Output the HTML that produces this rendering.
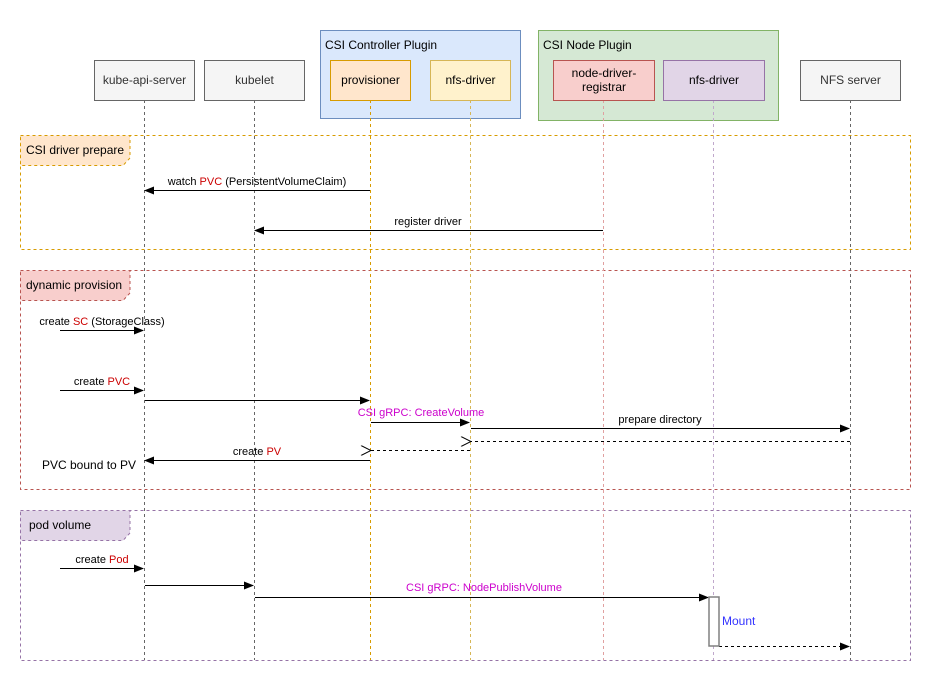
<!DOCTYPE html>
<html><head><meta charset="utf-8"><style>
html,body{margin:0;padding:0;background:#fff;}
svg{display:block;font-family:"Liberation Sans",Helvetica,Arial,sans-serif;}
</style></head><body>
<svg width="950" height="690" viewBox="0 0 950 690" xmlns="http://www.w3.org/2000/svg">
<defs>
<marker id="a" markerWidth="10" markerHeight="8" refX="9" refY="4" orient="auto" markerUnits="userSpaceOnUse"><path d="M0,0 L10,4 L0,8 Z" fill="#000"/></marker>
<marker id="o" markerWidth="12" markerHeight="10" refX="1" refY="5" orient="auto-start-reverse" markerUnits="userSpaceOnUse"><path d="M11,0 L1,5 L11,10" fill="none" stroke="#000"/></marker>
</defs>
<!-- plugin containers -->
<rect x="320.5" y="30.5" width="200" height="88" fill="#dae8fc" stroke="#6c8ebf"/>
<text x="325" y="49" font-size="12">CSI Controller Plugin</text>
<rect x="538.5" y="30.5" width="240" height="90" fill="#d5e8d4" stroke="#82b366"/>
<text x="543" y="49" font-size="12">CSI Node Plugin</text>
<!-- frames -->
<rect x="20.5" y="135.5" width="890" height="114" fill="none" stroke="#d79b00" stroke-dasharray="3,3"/>
<path d="M20.5,135.5 H130 V158 L123,165.5 H20.5 Z" fill="#ffe6cc" stroke="#d79b00" stroke-dasharray="3,3"/>
<text x="26" y="154" font-size="12">CSI driver prepare</text>
<rect x="20.5" y="270.5" width="890" height="219" fill="none" stroke="#b85450" stroke-dasharray="3,3"/>
<path d="M20.5,270.5 H130 V293 L123,300.5 H20.5 Z" fill="#f8cecc" stroke="#b85450" stroke-dasharray="3,3"/>
<text x="26" y="289" font-size="12">dynamic provision</text>
<rect x="20.5" y="510.5" width="890" height="150" fill="none" stroke="#9673a6" stroke-dasharray="3,3"/>
<path d="M20.5,510.5 H130 V533 L123,540.5 H20.5 Z" fill="#e1d5e7" stroke="#9673a6" stroke-dasharray="3,3"/>
<text x="29" y="529" font-size="12">pod volume</text>
<!-- lifelines -->
<g stroke-dasharray="3,3" fill="none">
<line x1="144.5" y1="100" x2="144.5" y2="660" stroke="#666"/>
<line x1="254.5" y1="100" x2="254.5" y2="660" stroke="#666"/>
<line x1="370.5" y1="100" x2="370.5" y2="660" stroke="#d79b00"/>
<line x1="470.5" y1="100" x2="470.5" y2="660" stroke="#d6b656"/>
<line x1="603.5" y1="100" x2="603.5" y2="660" stroke="#e0a0a0"/>
<line x1="713.5" y1="100" x2="713.5" y2="660" stroke="#c0a8cc"/>
<line x1="850.5" y1="100" x2="850.5" y2="660" stroke="#666"/>
</g>
<!-- participant boxes -->
<g font-size="12" text-anchor="middle">
<rect x="94.5" y="60.5" width="100" height="40" fill="#f5f5f5" stroke="#666"/>
<text x="144.5" y="84" fill="#333">kube-api-server</text>
<rect x="204.5" y="60.5" width="100" height="40" fill="#f5f5f5" stroke="#666"/>
<text x="254.5" y="84" fill="#333">kubelet</text>
<rect x="330.5" y="60.5" width="80" height="40" fill="#ffe6cc" stroke="#d79b00"/>
<text x="370.5" y="84">provisioner</text>
<rect x="430.5" y="60.5" width="80" height="40" fill="#fff2cc" stroke="#d6b656"/>
<text x="470.5" y="84">nfs-driver</text>
<rect x="553.5" y="60.5" width="101" height="40" fill="#f8cecc" stroke="#b85450"/>
<text x="604" y="77">node-driver-</text>
<text x="604" y="91">registrar</text>
<rect x="663.5" y="60.5" width="101" height="40" fill="#e1d5e7" stroke="#9673a6"/>
<text x="714" y="84">nfs-driver</text>
<rect x="800.5" y="60.5" width="100" height="40" fill="#f5f5f5" stroke="#666"/>
<text x="850.5" y="84" fill="#333">NFS server</text>
</g>
<!-- messages -->
<g stroke="#000" fill="none">
<line x1="370" y1="190.5" x2="145" y2="190.5" marker-end="url(#a)"/>
<line x1="603" y1="230.5" x2="255" y2="230.5" marker-end="url(#a)"/>
<line x1="60" y1="330.5" x2="143" y2="330.5" marker-end="url(#a)"/>
<line x1="60" y1="390.5" x2="143" y2="390.5" marker-end="url(#a)"/>
<line x1="145" y1="400.5" x2="369" y2="400.5" marker-end="url(#a)"/>
<line x1="371" y1="422.5" x2="469" y2="422.5" marker-end="url(#a)"/>
<line x1="471" y1="428.5" x2="849" y2="428.5" marker-end="url(#a)"/>
<line x1="850" y1="441.5" x2="471" y2="441.5" stroke-dasharray="3,3" marker-end="url(#o)"/>
<line x1="470" y1="450.5" x2="371" y2="450.5" stroke-dasharray="3,3" marker-end="url(#o)"/>
<line x1="370" y1="460.5" x2="145" y2="460.5" marker-end="url(#a)"/>
<line x1="60" y1="568.5" x2="143" y2="568.5" marker-end="url(#a)"/>
<line x1="145" y1="585.5" x2="253" y2="585.5" marker-end="url(#a)"/>
<line x1="255" y1="597.5" x2="708" y2="597.5" marker-end="url(#a)"/>
<line x1="719" y1="646.5" x2="849" y2="646.5" stroke-dasharray="3,3" marker-end="url(#a)"/>
</g>
<rect x="709" y="597" width="10" height="49" fill="#fff" stroke="#808080" stroke-width="1.5"/>
<!-- labels -->
<g font-size="11" text-anchor="middle" fill="#000">
<text x="257" y="185">watch <tspan fill="#cc0000">PVC</tspan> (PersistentVolumeClaim)</text>
<text x="428" y="225">register driver</text>
<text x="102" y="325">create <tspan fill="#cc0000">SC</tspan> (StorageClass)</text>
<text x="102" y="385">create <tspan fill="#cc0000">PVC</tspan></text>
<text x="421" y="416" fill="#cc00cc">CSI gRPC: CreateVolume</text>
<text x="660" y="423">prepare directory</text>
<text x="257" y="455">create <tspan fill="#cc0000">PV</tspan></text>
<text x="102" y="563">create <tspan fill="#cc0000">Pod</tspan></text>
<text x="484" y="591" fill="#cc00cc">CSI gRPC: NodePublishVolume</text>
</g>
<text x="42" y="469" font-size="12">PVC bound to PV</text>
<text x="722" y="625" font-size="12" fill="#3333ff">Mount</text>
</svg>
</body></html>
